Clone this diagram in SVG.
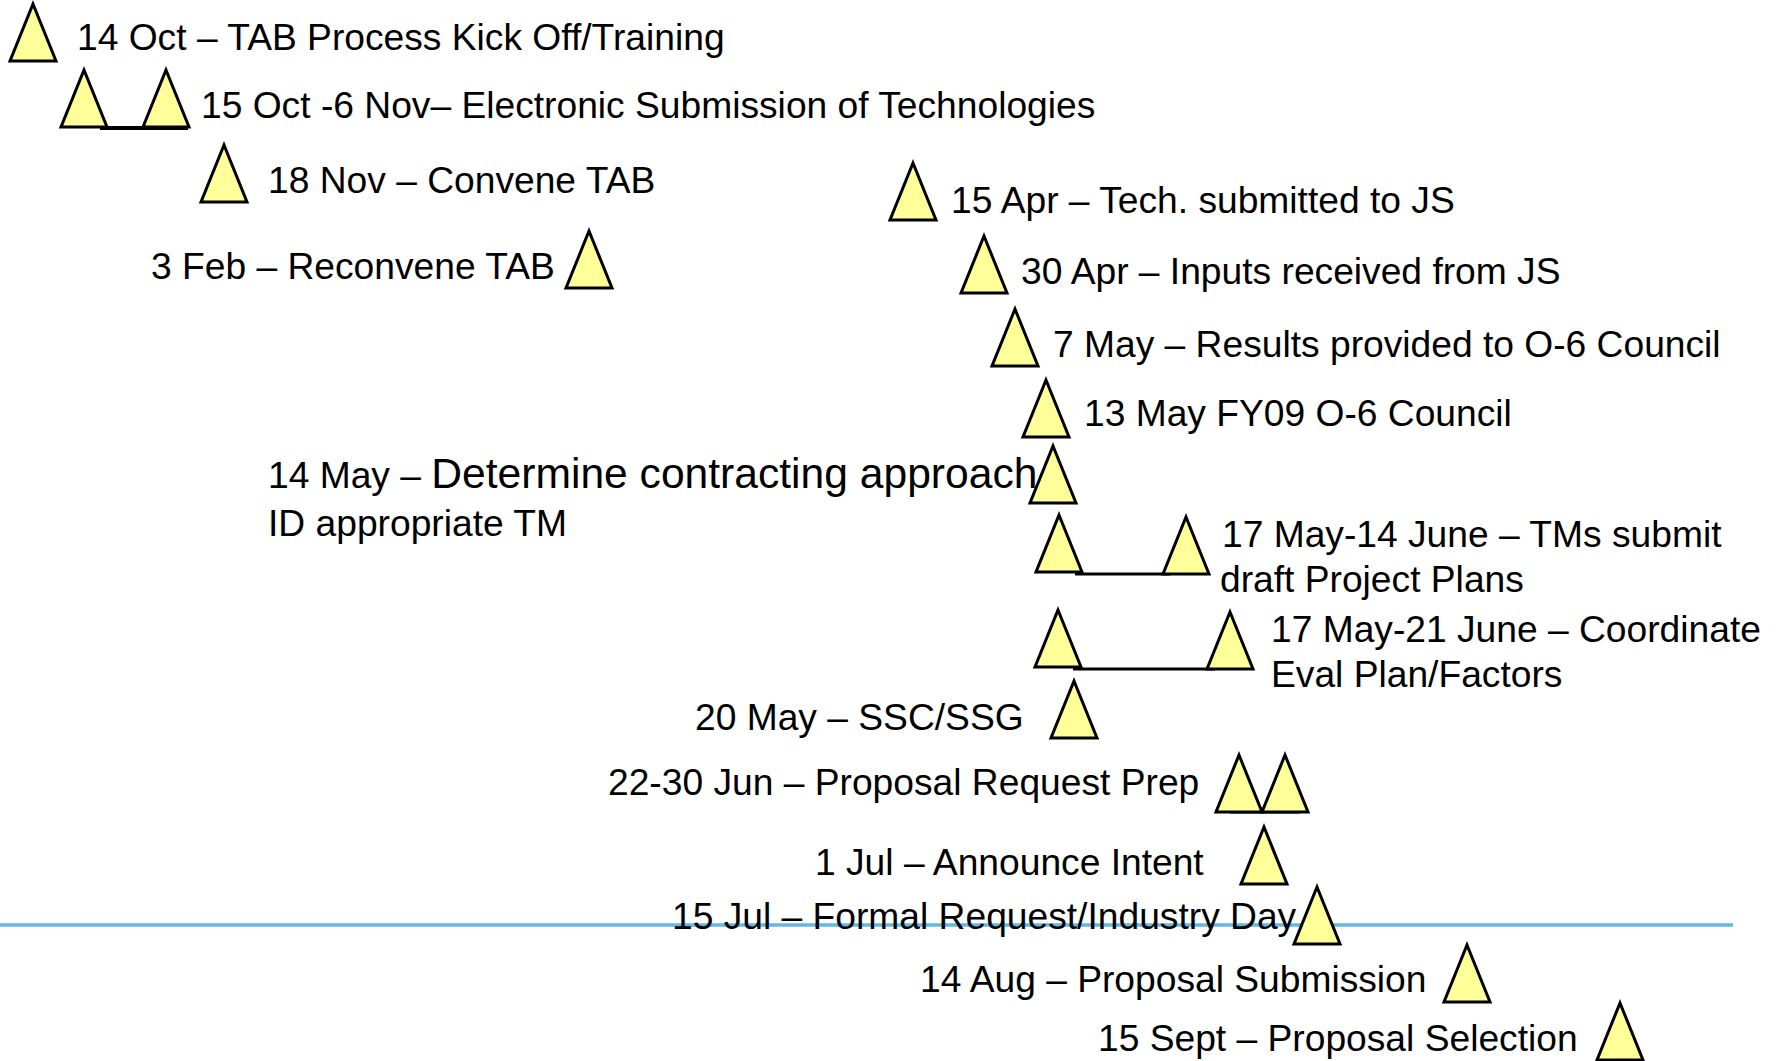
<svg xmlns="http://www.w3.org/2000/svg" xmlns:xlink="http://www.w3.org/1999/xlink" width="1781" height="1061" viewBox="0 0 1781 1061">
<style>
.t{font-family:"Liberation Sans",Arial,sans-serif;font-size:37.2px;fill:#000}
.big{font-size:42.6px}
.bar{stroke:#000;stroke-width:3}
.blue{stroke:#62B8E2;stroke-width:3.5}
.tri{fill:#FFFF99;stroke:#000;stroke-width:3;stroke-linejoin:miter}
</style>
<defs>
<path id="tri" class="tri" d="M0,0 L23,57 L-23,57 Z"/>
</defs>
<rect width="1781" height="1061" fill="#fff"/>
<g id="connectors">
<line class="blue" x1="0" y1="925" x2="1733" y2="925"/>
<line class="bar" x1="100" y1="128" x2="188" y2="128" style="stroke-width:4"/>
<line class="bar" x1="1075" y1="574" x2="1170" y2="574"/>
<line class="bar" x1="1073" y1="669" x2="1215" y2="669"/>
<line class="bar" x1="1230" y1="812" x2="1300" y2="812"/>
</g>
<g id="n1"><use xlink:href="#tri" x="33" y="4"/><text class="t" x="77" y="50">14 Oct – TAB Process Kick Off/Training</text></g>
<g id="n2"><use xlink:href="#tri" x="84" y="70"/><use xlink:href="#tri" x="166" y="70"/><text class="t" x="201" y="118">15 Oct -6 Nov– Electronic Submission of Technologies</text></g>
<g id="n3"><use xlink:href="#tri" x="224" y="145"/><text class="t" x="268" y="193">18 Nov – Convene TAB</text></g>
<g id="n4"><text class="t" x="151" y="279">3 Feb – Reconvene TAB</text><use xlink:href="#tri" x="589" y="231"/></g>
<g id="n5"><use xlink:href="#tri" x="913" y="163"/><text class="t" x="951" y="213">15 Apr – Tech. submitted to JS</text></g>
<g id="n6"><use xlink:href="#tri" x="984" y="236"/><text class="t" x="1021" y="284">30 Apr – Inputs received from JS</text></g>
<g id="n7"><use xlink:href="#tri" x="1015" y="309"/><text class="t" x="1053" y="357">7 May – Results provided to O-6 Council</text></g>
<g id="n8"><use xlink:href="#tri" x="1046" y="380"/><text class="t" x="1084" y="426">13 May FY09 O-6 Council</text></g>
<g id="n9"><text class="t" x="268" y="488">14 May – <tspan class="big">Determine contracting approach</tspan></text><text class="t" x="268" y="536">ID appropriate TM</text><use xlink:href="#tri" x="1053" y="446"/></g>
<g id="n10"><use xlink:href="#tri" x="1059" y="515"/><use xlink:href="#tri" x="1186" y="517"/><text class="t" x="1222" y="547">17 May-14 June – TMs submit</text><text class="t" x="1220" y="592">draft Project Plans</text></g>
<g id="n11"><use xlink:href="#tri" x="1058" y="610"/><use xlink:href="#tri" x="1230" y="612"/><text class="t" x="1271" y="642">17 May-21 June – Coordinate</text><text class="t" x="1271" y="687">Eval Plan/Factors</text></g>
<g id="n12"><text class="t" x="695" y="730">20 May – SSC/SSG</text><use xlink:href="#tri" x="1074" y="681"/></g>
<g id="n13"><text class="t" x="608" y="795">22-30 Jun – Proposal Request Prep</text><use xlink:href="#tri" x="1239" y="755"/><use xlink:href="#tri" x="1285" y="755"/></g>
<g id="n14"><text class="t" x="815" y="875">1 Jul – Announce Intent</text><use xlink:href="#tri" x="1264" y="827"/></g>
<g id="n15"><text class="t" x="672" y="929">15 Jul – Formal Request/Industry Day</text><use xlink:href="#tri" x="1317" y="887"/></g>
<g id="n16"><text class="t" x="920" y="992">14 Aug – Proposal Submission</text><use xlink:href="#tri" x="1467" y="945"/></g>
<g id="n17"><text class="t" x="1098" y="1051">15 Sept – Proposal Selection</text><use xlink:href="#tri" x="1620" y="1003"/></g>
</svg>
